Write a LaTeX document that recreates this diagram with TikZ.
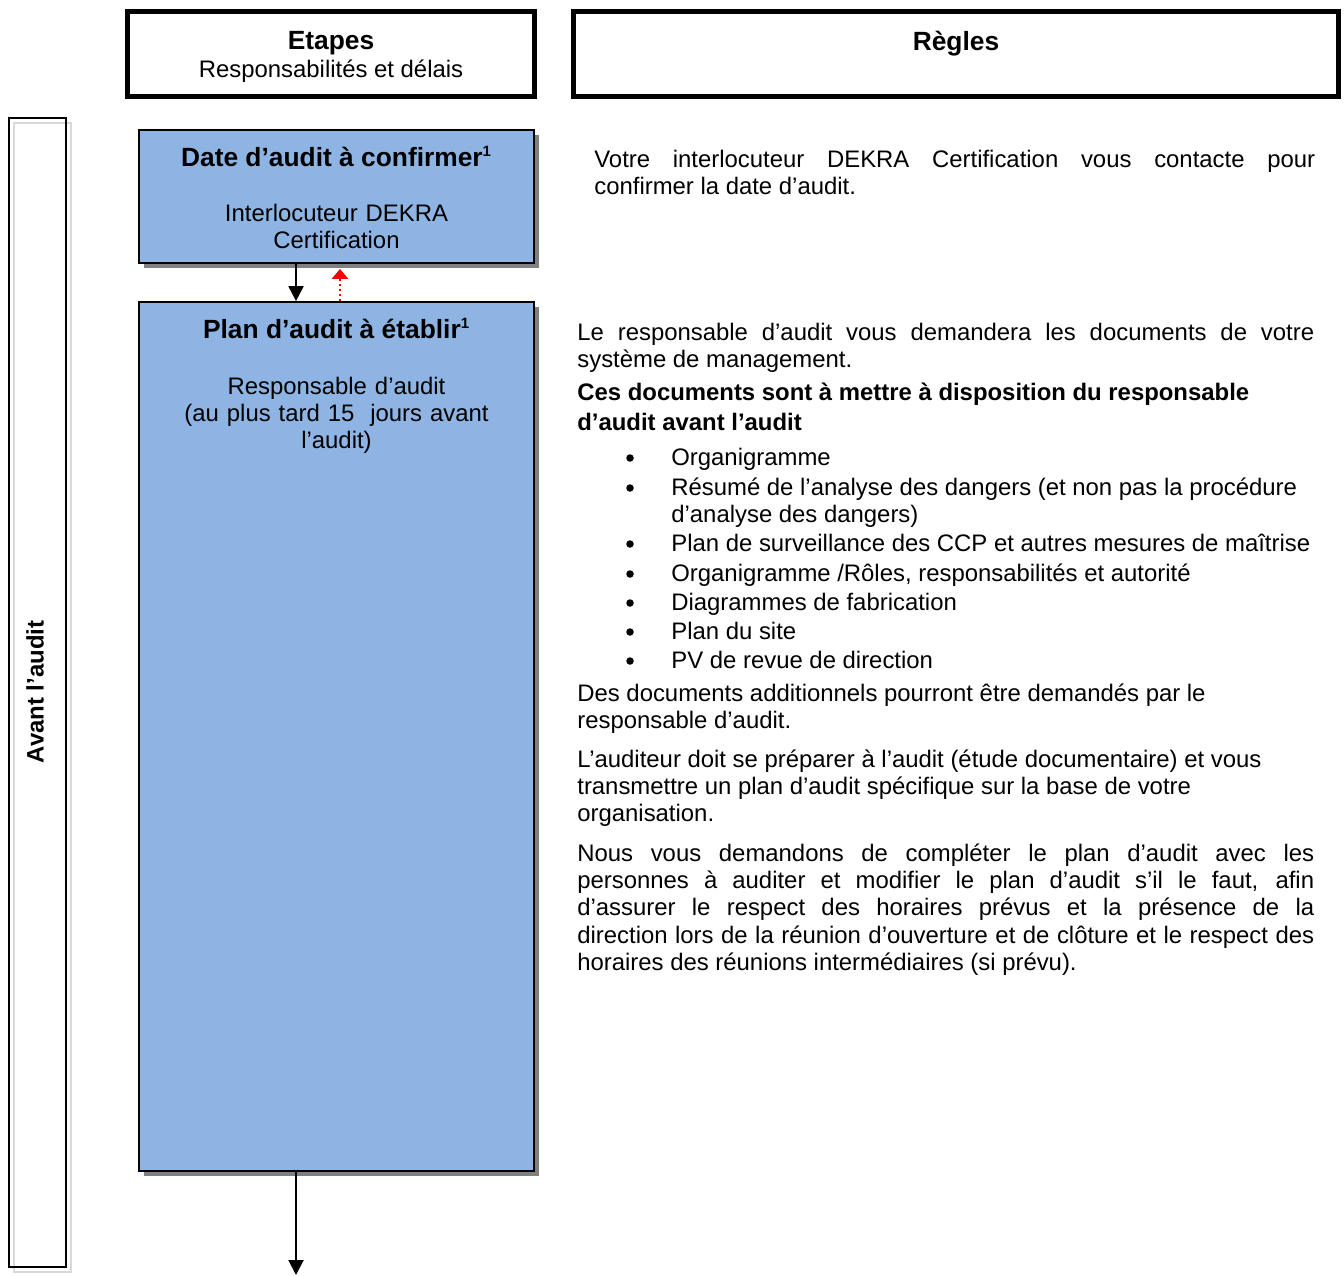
\documentclass[tikz,border=0pt]{standalone}
\usepackage{fontspec}
\setmainfont{Liberation Sans}
\usetikzlibrary{arrows.meta,shadows}
\hyphenpenalty=10000
\exhyphenpenalty=10000
\definecolor{boxblue}{RGB}{142,180,227}
\def\bodyfont{\fontsize{13.6}{15.6}\selectfont}
\def\titlefont{\bfseries\fontsize{15}{17}\selectfont}
\def\supone{\textsuperscript{\fontsize{8.5}{9}\selectfont 1}}
\tikzset{
  headbox/.style={line width=2.8pt},
  stepbox/.style={draw, line width=1.1pt, fill=boxblue, minimum width=7.9cm, inner sep=0pt,
    drop shadow={shadow xshift=0.1cm, shadow yshift=-0.1cm, fill=black!50, opacity=1}},
  boxtitle/.style={font=\titlefont, inner sep=0pt, anchor=base},
  boxtext/.style={font=\bodyfont, inner sep=0pt, anchor=base, text width=7.5cm, align=center},
  paratext/.style={font=\bodyfont, inner sep=0pt, anchor=base west, text width=14.74cm, align=flush left},
  itemtext/.style={paratext, text width=13.4cm},
  bulletmark/.style={circle, fill, inner sep=0pt, minimum size=0.15cm},
  flowarrow/.style={-{Triangle[length=0.3cm, width=0.3cm]}, line width=1.1pt},
  backarrow/.style={-{Triangle[length=0.2cm, width=0.33cm]}, red, line width=1.1pt,
    dash pattern=on 1.2pt off 1.6pt, shorten >=0.1cm},
}

\begin{document}
\begin{tikzpicture}[x=0.02cm, y=-0.02cm]
		%%%%% START %%%%%
		\useasboundingbox (0,0) rectangle (1344,1275);
		
		% column heads
		\draw[headbox] (127.5,11.5) rectangle (534.5,96.5);
		\draw[headbox] (573.5,11.5) rectangle (1338.5,96.5);
		\node[boxtitle] (etapes) at (331,49.5) {Etapes};
		\node[boxtitle, font=\bodyfont] (delais) at (331,77.5) {Responsabilités et délais};
		\node[boxtitle] (regles) at (956,50.5) {Règles};
		
		% phase bar
		\draw[black!15, line width=1.1pt] (14,123) rectangle (71,1272);
		\draw[line width=1.1pt] (9,118) rectangle (66,1267);
		\node[font=\bfseries\bodyfont, inner sep=0pt, rotate=90] (avant) at (35,692) {Avant l’audit};
		
		% steps
		\node[stepbox, minimum height=2.66cm] (date) at (336.5,196.5) {};
		\node[stepbox, minimum height=17.38cm] (plan) at (336.5,736.5) {};
		
		\node[boxtitle] (date-title) at (336.5,166) {Date d’audit à confirmer\supone};
		\node[boxtext] (date-who) at (336.5,221) {Interlocuteur DEKRA\\Certification};
		
		\node[boxtitle] (plan-title) at (336.5,338) {Plan d’audit à établir\supone};
		\node[boxtext] (plan-who) at (336.5,394) {Responsable d’audit\\(au plus tard 15\ \ jours avant\\l’audit)};
		
		\draw[flowarrow] ([xshift=-0.81cm]date.south) -- ([xshift=-0.81cm]plan.north);
		\draw[backarrow] ([xshift=0.07cm]plan.north) -- ([xshift=0.07cm]date.south);
		\coordinate (next) at (296,1275);
		\draw[flowarrow] (plan.south -| next) -- (next);
		
		% rules
		\node[paratext, text width=14.42cm, align=justify] (contact) at (594,167) {Votre interlocuteur DEKRA Certification vous contacte pour\linebreak confirmer la date d’audit.};
		
		\node[paratext, align=justify] (docs) at (577,340) {Le responsable d’audit vous demandera les documents de votre système de management.};
		\node[paratext, font=\bfseries\fontsize{13.6}{17.6}\selectfont] (dispo) at (577,400) {Ces documents sont à mettre à disposition du responsable d’audit avant l’audit};
		
		\node[bulletmark] (b1) at (630,458) {};
		\node[itemtext] (i1) at (671,465) {Organigramme};
		\node[bulletmark] (b2) at (630,488) {};
		\node[itemtext] (i2) at (671,495) {Résumé de l’analyse des dangers (et non pas la procédure d’analyse des dangers)};
		\node[bulletmark] (b3) at (630,544) {};
		\node[itemtext] (i3) at (671,551) {Plan de surveillance des CCP et autres mesures de maîtrise};
		\node[bulletmark] (b4) at (630,574) {};
		\node[itemtext] (i4) at (671,581) {Organigramme /Rôles, responsabilités et autorité};
		\node[bulletmark] (b5) at (630,603) {};
		\node[itemtext] (i5) at (671,610) {Diagrammes de fabrication};
		\node[bulletmark] (b6) at (630,632) {};
		\node[itemtext] (i6) at (671,639) {Plan du site};
		\node[bulletmark] (b7) at (630,661) {};
		\node[itemtext] (i7) at (671,668) {PV de revue de direction};
		
		\node[paratext] (extra) at (577,701) {Des documents additionnels pourront être demandés par le responsable d’audit.};
		\node[paratext] (prep) at (577,767) {L’auditeur doit se préparer à l’audit (étude documentaire) et vous transmettre un plan d’audit spécifique sur la base de votre organisation.};
		\node[paratext, align=justify] (complete) at (577,861) {Nous vous demandons de compléter le plan d’audit avec les\linebreak personnes à auditer et modifier le plan d’audit s’il le faut, afin\linebreak d’assurer le respect des horaires prévus et la présence de la\linebreak direction lors de la réunion d’ouverture et de clôture et le respect des\linebreak horaires des réunions intermédiaires (si prévu).};
		
		%%%%% END %%%%%
	\end{tikzpicture}
\end{document}
